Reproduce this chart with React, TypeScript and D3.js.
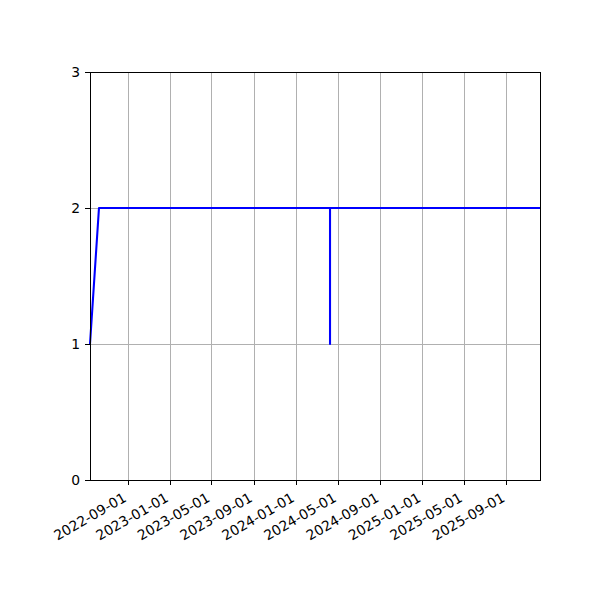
import * as d3 from 'd3';

const dates = ['2022-05-13', '2022-06-08', '2024-04-07', '2024-04-07', '2024-04-07', '2025-12-06'];
const values = [1, 2, 2, 1, 2, 2];
const xTickLabels = [
  '2022-09-01', '2023-01-01', '2023-05-01', '2023-09-01', '2024-01-01',
  '2024-05-01', '2024-09-01', '2025-01-01', '2025-05-01', '2025-09-01',
];
const yTicks = [0, 1, 2, 3];

const parse = d3.utcParse('%Y-%m-%d');

const W = 600;
const H = 600;
const left = 90;
const right = 540;
const top = 72;
const bottom = 480;
const font = 'DejaVu Sans, sans-serif';
const fs = 13.9;

// snap a coordinate to the pixel centre so 1px lines stay crisp
const snap = (v: number) => Math.round(v - 0.5) + 0.5;

export default function App() {
  const points = dates.map((d, i) => ({ date: parse(d) as Date, value: values[i] }));

  const x = d3.scaleUtc()
    .domain(d3.extent(points, (d) => d.date) as [Date, Date])
    .range([left, right]);

  const y = d3.scaleLinear()
    .domain([0, 3])
    .range([bottom, top]);

  const line = d3.line<{ date: Date; value: number }>()
    .x((d) => x(d.date))
    .y((d) => y(d.value));

  const xTicks = xTickLabels.map((t) => ({ label: t, pos: x(parse(t) as Date) }));

  return (
    <svg width={W} height={H} style={{ position: 'absolute', left: 0, top: 0, background: '#fff' }}>
      <rect x={0} y={0} width={W} height={H} fill="#fff" />
      {/* grid */}
      {xTicks.map((t) => (
        <line key={'gx' + t.label} x1={snap(t.pos)} x2={snap(t.pos)} y1={top} y2={bottom} stroke="#b0b0b0" strokeWidth={1} />
      ))}
      {yTicks.map((v) => (
        <line key={'gy' + v} x1={left} x2={right} y1={snap(y(v))} y2={snap(y(v))} stroke="#b0b0b0" strokeWidth={1} />
      ))}
      {/* data */}
      <path d={line(points) || ''} fill="none" stroke="#0000ff" strokeWidth={2.08} strokeLinejoin="round" />
      {/* spines */}
      <rect x={snap(left)} y={snap(top)} width={snap(right) - snap(left)} height={snap(bottom) - snap(top)} fill="none" stroke="#000" strokeWidth={1} />
      {/* x ticks */}
      {xTicks.map((t) => (
        <g key={'tx' + t.label}>
          <line x1={snap(t.pos)} x2={snap(t.pos)} y1={bottom} y2={bottom + 5} stroke="#000" strokeWidth={1} />
          <text
            transform={`translate(${t.pos - 1},${500.5}) rotate(-30)`}
            textAnchor="end"
            fontFamily={font}
            fontSize={fs}
            fill="#000"
          >
            {t.label}
          </text>
        </g>
      ))}
      {/* y ticks */}
      {yTicks.map((v) => (
        <g key={'ty' + v}>
          <line x1={left - 5} x2={left} y1={snap(y(v))} y2={snap(y(v))} stroke="#000" strokeWidth={1} />
          <text x={left - 9.8} y={y(v)} dy="0.35em" textAnchor="end" fontFamily={font} fontSize={fs} fill="#000">
            {v}
          </text>
        </g>
      ))}
    </svg>
  );
}
